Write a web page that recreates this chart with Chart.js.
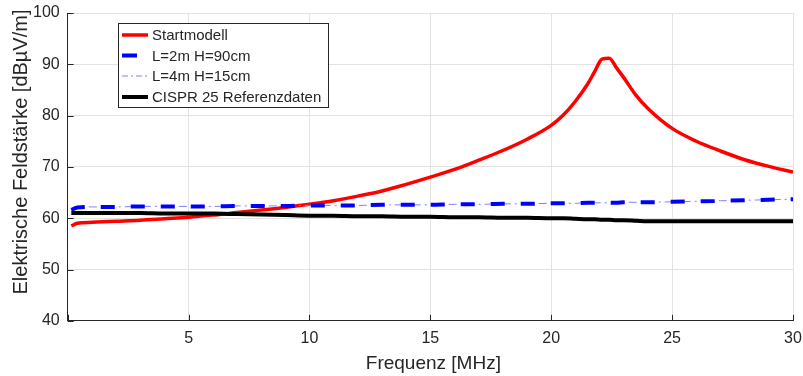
<!DOCTYPE html>
<html>
<head>
<meta charset="utf-8">
<script src="https://cdn.jsdelivr.net/npm/chart.js@4"></script>
<style>
html, body { margin: 0; padding: 0; background: #fff; }
#wrap { width: 803px; height: 376px; position: relative; }
</style>
</head>
<body>
<div id="wrap"><canvas id="myChart"></canvas></div>
<script>
// frequency points in MHz
const freq = [0.15, 0.4, 1, 2, 3, 4, 5, 6, 7, 8, 9, 10, 11, 12, 13, 14, 15, 16, 17, 18, 19, 20,
    20.5, 21, 21.5, 21.8, 22.1, 22.4, 22.7, 23, 23.5, 24, 25, 26, 27, 28, 29, 30];

// field strength in dBuV/m
const startmodell = [58.5, 59.0, 59.2, 59.4, 59.6, 59.9, 60.2, 60.6, 61.1, 61.6, 62.1, 62.7, 63.4, 64.3, 65.3, 66.6, 68.0, 69.5, 71.3, 73.2, 75.4, 78.1,
    80.1, 82.8, 86.1, 88.6, 91.0, 91.2, 89.3, 87.4, 84.0, 81.4, 77.5, 75.0, 73.1, 71.4, 70.1, 69.0];
const l2mH90 = [61.6, 62.1, 62.2, 62.2, 62.3, 62.3, 62.3, 62.3, 62.4, 62.4, 62.4, 62.5, 62.5, 62.5, 62.6, 62.6, 62.6, 62.7, 62.7, 62.8, 62.8, 62.9,
    62.9, 62.9, 63.0, 63.0, 63.0, 63.0, 63.0, 63.1, 63.1, 63.1, 63.2, 63.3, 63.4, 63.5, 63.6, 63.7];
const l4mH15 = [61.6, 62.1, 62.2, 62.2, 62.3, 62.3, 62.3, 62.3, 62.4, 62.4, 62.4, 62.5, 62.5, 62.5, 62.6, 62.6, 62.6, 62.7, 62.7, 62.8, 62.8, 62.9,
    62.9, 62.9, 63.0, 63.0, 63.0, 63.0, 63.0, 63.1, 63.1, 63.1, 63.2, 63.3, 63.4, 63.5, 63.6, 63.7];
const cispr25 = [61.0, 61.0, 61.0, 61.0, 61.0, 60.9, 60.9, 60.9, 60.8, 60.7, 60.6, 60.5, 60.5, 60.4, 60.4, 60.3, 60.3, 60.2, 60.2, 60.1, 60.1, 60.0,
    60.0, 59.9, 59.8, 59.8, 59.7, 59.7, 59.6, 59.6, 59.5, 59.4, 59.4, 59.4, 59.4, 59.4, 59.4, 59.4];

const xTicks = [0, 5, 10, 15, 20, 25, 30];
const yTicks = [40, 50, 60, 70, 80, 90, 100];
const xTitle = 'Frequenz [MHz]';
const yTitle = 'Elektrische Feldstärke [dBµV/m]';

const textColor = '#262626';
const fontFamily = '"Liberation Sans", Arial, sans-serif';

function toPoints(values) {
    return freq.map((f, i) => ({ x: f, y: values[i] }));
}

// legend box drawn inside the plot area like the original
const boxLegend = {
    id: 'boxLegend',
    afterDraw(chart) {
        const ctx = chart.ctx;
        const x0 = 118, y0 = 23, w = 210, h = 84;
        ctx.save();
        ctx.fillStyle = '#fff';
        ctx.fillRect(x0, y0, w, h);
        ctx.strokeStyle = textColor;
        ctx.lineWidth = 1;
        ctx.strokeRect(x0 + 0.5, y0 + 0.5, w, h);
        const rows = [35, 55.5, 76, 97];
        ctx.font = '15px ' + fontFamily;
        ctx.textBaseline = 'middle';
        chart.data.datasets.forEach(ds => {
            const y = rows[ds.legendRow];
            ctx.strokeStyle = ds.borderColor;
            ctx.lineWidth = ds.borderWidth;
            ctx.setLineDash(ds.legendDash || []);
            ctx.beginPath();
            ctx.moveTo(122, y);
            ctx.lineTo(ds.legendEnd || 148, y);
            ctx.stroke();
            ctx.setLineDash([]);
            ctx.fillStyle = textColor;
            ctx.fillText(ds.label, 152, y + 1);
        });
        ctx.restore();
    }
};

// axis titles, y title sits a bit above the centre as in the original
const axisTitles = {
    id: 'axisTitles',
    afterDraw(chart) {
        const ctx = chart.ctx;
        const a = chart.chartArea;
        ctx.save();
        ctx.fillStyle = textColor;
        ctx.textAlign = 'center';
        ctx.textBaseline = 'middle';
        ctx.font = '19px ' + fontFamily;
        ctx.fillText(xTitle, (a.left + a.right) / 2 + 3, 364);
        ctx.font = '20px ' + fontFamily;
        ctx.translate(21, 152);
        ctx.rotate(-Math.PI / 2);
        ctx.fillText(yTitle, 0, 0);
        ctx.restore();
    }
};

// small inward tick marks on left and bottom axis
const innerTicks = {
    id: 'innerTicks',
    afterDraw(chart) {
        const ctx = chart.ctx;
        const a = chart.chartArea;
        ctx.save();
        ctx.strokeStyle = textColor;
        ctx.lineWidth = 1;
        ctx.beginPath();
        xTicks.forEach(v => {
            const px = Math.round(chart.scales.x.getPixelForValue(v)) + 0.5;
            ctx.moveTo(px, a.bottom);
            ctx.lineTo(px, a.bottom - 6);
        });
        yTicks.forEach(v => {
            const py = Math.round(chart.scales.y.getPixelForValue(v)) + 0.5;
            ctx.moveTo(a.left, py);
            ctx.lineTo(a.left + 6, py);
        });
        ctx.stroke();
        ctx.restore();
    }
};

let myChart = new Chart(document.querySelector('#myChart').getContext('2d'), {
    type: 'line',
    data: {
        datasets: [{
            label: 'Startmodell',
            data: toPoints(startmodell),
            borderColor: '#ff0000',
            borderWidth: 3.5,
            legendRow: 0,
            order: 3
        }, {
            label: 'L=2m H=90cm',
            data: toPoints(l2mH90),
            borderColor: '#0000ff',
            borderWidth: 4,
            borderDash: [14, 16],
            legendDash: [],
            legendEnd: 137,
            legendRow: 1,
            order: 1
        }, {
            label: 'L=4m H=15cm',
            data: toPoints(l4mH15),
            borderColor: '#8080ff',
            borderWidth: 1,
            borderDash: [8, 4, 2, 4],
            legendDash: [6, 3, 2, 3],
            legendRow: 2,
            order: 2
        }, {
            label: 'CISPR 25 Referenzdaten',
            data: toPoints(cispr25),
            borderColor: '#000000',
            borderWidth: 4,
            legendRow: 3,
            order: 0
        }]
    },
    options: {
        responsive: true,
        maintainAspectRatio: false,
        animation: false,
        layout: { padding: { left: 25, right: 0, top: 0, bottom: 20 } },
        elements: {
            point: { radius: 0 },
            line: { cubicInterpolationMode: 'monotone', fill: false }
        },
        plugins: {
            legend: { display: false },
            tooltip: { enabled: false }
        },
        scales: {
            x: {
                type: 'linear',
                min: 0,
                max: 30,
                afterBuildTicks: axis => { axis.ticks = xTicks.map(v => ({ value: v })); },
                afterFit: axis => { axis.paddingLeft = 0; axis.paddingRight = 10; },
                ticks: {
                    color: textColor,
                    font: { family: fontFamily, size: 16 },
                    padding: 8,
                    callback: v => v === 0 ? '' : v
                },
                grid: { color: '#e3e3e3', drawTicks: false },
                border: { color: textColor }
            },
            y: {
                min: 40,
                max: 100,
                afterBuildTicks: axis => { axis.ticks = yTicks.map(v => ({ value: v })); },
                afterFit: axis => { axis.paddingTop = 13; axis.paddingBottom = 0; },
                ticks: {
                    color: textColor,
                    font: { family: fontFamily, size: 16 },
                    padding: 8
                },
                grid: { color: '#e3e3e3', drawTicks: false },
                border: { color: textColor }
            }
        }
    },
    plugins: [innerTicks, boxLegend, axisTitles]
});
</script>
</body>
</html>
